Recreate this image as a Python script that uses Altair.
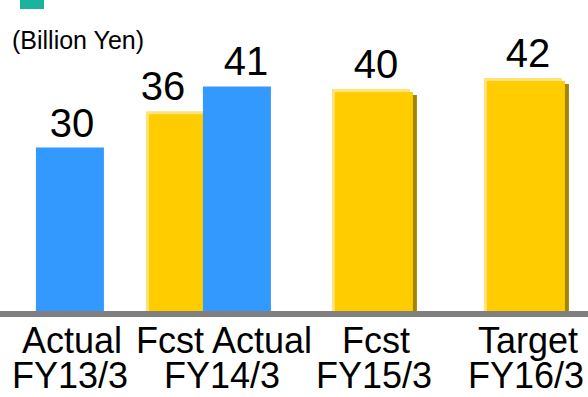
import altair as alt
import pandas as pd

# Sales figures, one row per bar
periods = ["FY13/3", "FY14/3", "FY14/3", "FY15/3", "FY16/3"]
kinds = ["Actual", "Fcst", "Actual", "Fcst", "Target"]
values = [30, 36, 41, 40, 42]
unit_label = "(Billion Yen)"

FONT = "Liberation Sans"
BLUE = "#3399FF"
GOLD = "#FFCC00"
GOLD_LIGHT = "#FFE27A"
GOLD_DARK = "#A38600"
TEAL = "#1BB39E"

df = pd.DataFrame({"period": periods, "kind": kinds, "value": values})
df["fy"] = df["period"].str[2:4].astype(int)
df["paired"] = df.groupby("period")["period"].transform("size") > 1

# Two-line captions under each period: the kinds shown, then the period
captions = (
    df.groupby(["period", "fy"], sort=False)["kind"].apply(" ".join).reset_index()
)

# Scales: one fiscal year = 152 px, one billion yen = 5.55 px
PX_PER_YEAR = 152.0
PX_PER_UNIT = 5.55
XS = alt.Scale(domain=[12.54, 12.54 + 588 / PX_PER_YEAR], nice=False, zero=False)
YS = alt.Scale(domain=[-14.95, -14.95 + 397 / PX_PER_UNIT], nice=False, zero=False)

# Bar centre: the two bars of a shared period sit side by side
CENTER = ("datum.fy + (datum.paired ? (datum.kind == 'Fcst' ? -34 : 15) : 0) / "
          f"{PX_PER_YEAR}")

is_actual = alt.FieldEqualPredicate(field="kind", equal="Actual")
is_plan = alt.FieldOneOfPredicate(field="kind", oneOf=["Fcst", "Target"])

base = alt.Chart(df)


def bar(pred, color, left_px, right_px, lift_px=0):
    return (
        base.transform_filter(pred)
        .transform_calculate(c=CENTER)
        .transform_calculate(l=f"datum.c + ({left_px}) / {PX_PER_YEAR}")
        .transform_calculate(r=f"datum.c + ({right_px}) / {PX_PER_YEAR}")
        .transform_calculate(top=f"datum.value + ({lift_px}) / {PX_PER_UNIT}")
        .transform_calculate(zero="0")
        .mark_bar(color=color)
        .encode(
            x=alt.X("l:Q", scale=XS, axis=None),
            x2="r:Q",
            y=alt.Y("top:Q", scale=YS, axis=None),
            y2="zero:Q",
        )
    )


# bevelled gold bars: light edge up-left, dark edge down-right
gold_light = bar(is_plan, GOLD_LIGHT, -42, 36, 3)
gold_dark = bar(is_plan, GOLD_DARK, -35, 43, -3)
gold_main = bar(is_plan, GOLD, -39, 39)
blue = bar(is_actual, BLUE, -34, 34)

baseline = (
    base.transform_calculate(z="0")
    .mark_rule(color="#808080", strokeWidth=6)
    .encode(y=alt.Y("z:Q", scale=YS, axis=None))
)

LABEL_X = ("datum.fy + (datum.paired ? (datum.kind == 'Fcst' ? -59 : 24) : 2) / "
           f"{PX_PER_YEAR}")
text_style = dict(font=FONT, fontSize=40, color="#000000", baseline="alphabetic")


def value_labels(pred, dy):
    return (
        base.transform_filter(pred)
        .transform_calculate(lx=LABEL_X)
        .mark_text(dy=dy, **text_style)
        .encode(
            x=alt.X("lx:Q", scale=XS, axis=None),
            y=alt.Y("value:Q", scale=YS, axis=None),
            text="value:Q",
        )
    )


lbl_blue = value_labels(is_actual, -11)
lbl_gold = value_labels(is_plan, -14)

cap_style = dict(font=FONT, fontSize=36, color="#000000", baseline="alphabetic")
cap_kind = alt.Chart(captions).mark_text(dx=2, **cap_style).encode(
    x=alt.X("fy:Q", scale=XS, axis=None), y=alt.value(353), text="kind:N"
)
cap_period = alt.Chart(captions).mark_text(**cap_style).encode(
    x=alt.X("fy:Q", scale=XS, axis=None), y=alt.value(388), text="period:N"
)

unit = alt.Chart(pd.DataFrame({"t": [unit_label]})).mark_text(
    font=FONT, fontSize=25, align="left", baseline="alphabetic", color="#000000"
).encode(x=alt.value(12), y=alt.value(49), text="t:N")

# small teal tab in the top-left corner, drawn as a 24x9 filled path
marker = alt.Chart(pd.DataFrame({"t": [0]})).mark_point(
    shape="M-1,-0.375H1V0.375H-1Z", filled=True, opacity=1, color=TEAL,
    size=576, strokeWidth=0,
).encode(x=alt.value(32), y=alt.value(4.5))

chart = alt.layer(
    gold_light, gold_dark, gold_main, blue, baseline,
    lbl_blue, lbl_gold, cap_kind, cap_period, unit, marker,
).properties(
    width=588,
    height=397,
    padding=0,
    autosize=alt.AutoSizeParams(type="none"),
).configure_view(strokeWidth=0)

chart.save("out.html", embed_options={"renderer": "svg", "actions": False})
